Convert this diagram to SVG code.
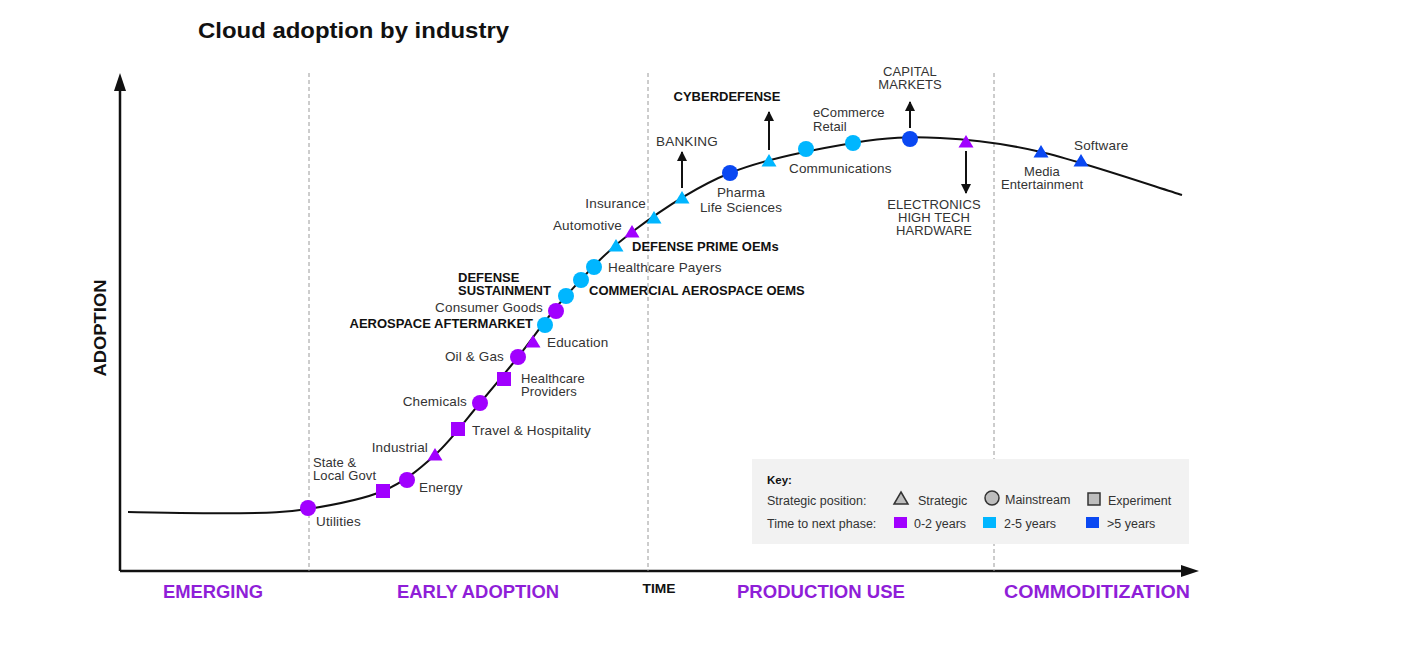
<svg xmlns="http://www.w3.org/2000/svg" xmlns:xlink="http://www.w3.org/1999/xlink" width="1410" height="655" viewBox="0 0 1410 655">
<style>
text{font-family:"Liberation Sans",Arial,sans-serif;fill:#333;font-size:13.5px;letter-spacing:0.15px}
.b{font-weight:bold;fill:#111;font-size:13px;letter-spacing:0}
.ph{font-weight:bold;fill:#8F1ED8;font-size:18.5px;letter-spacing:0}
.e{text-anchor:end}
.m{text-anchor:middle}
.p{fill:#A100FF}
.c{fill:#00B6FF}
.d{fill:#0A48F2}
.dash{stroke:#9a9a9a;stroke-width:1;stroke-dasharray:4 3;fill:none}
.arr{stroke:#111;stroke-width:2;fill:none;marker-end:url(#ah)}
.k{fill:#BDBDBD;stroke:#333;stroke-width:1.5}
.ks{font-size:12.5px;letter-spacing:0}
.sm{font-size:13px;letter-spacing:0.1px}
</style>
<defs>
<marker id="ah" viewBox="0 0 10 10" refX="9" refY="5" markerWidth="5" markerHeight="5" orient="auto" markerUnits="strokeWidth">
<path d="M0,0 L10,5 L0,10 Z" fill="#111"/>
</marker>
<circle id="dot" r="8"/>
<rect id="sq" x="-7" y="-7" width="14" height="14"/>
<path id="tri" d="M0,-7 L7.5,5.5 L-7.5,5.5 Z"/>
</defs>
<rect width="1410" height="655" fill="#fff"/>
<text x="198" y="38" class="b" style="font-size:22.5px" textLength="311" lengthAdjust="spacingAndGlyphs">Cloud adoption by industry</text>

<g id="axes">
<line x1="120" y1="571" x2="120" y2="88" stroke="#111" stroke-width="2.5"/>
<path d="M120,73 L126,91 L114,91 Z" fill="#111"/>
<line x1="120" y1="571" x2="1184" y2="571" stroke="#111" stroke-width="2.5"/>
<path d="M1199,571 L1181,565 L1181,577 Z" fill="#111"/>
<line class="dash" x1="309" y1="73" x2="309" y2="571"/>
<line class="dash" x1="648" y1="73" x2="648" y2="571"/>
<line class="dash" x1="994" y1="73" x2="994" y2="571"/>
<text transform="translate(106,328) rotate(-90)" class="b m" style="font-size:17px" textLength="97" lengthAdjust="spacingAndGlyphs">ADOPTION</text>
<text x="659" y="593" class="b m" style="font-size:12.5px" textLength="33" lengthAdjust="spacingAndGlyphs">TIME</text>
<text x="213" y="598" class="ph m" textLength="100" lengthAdjust="spacingAndGlyphs">EMERGING</text>
<text x="478" y="598" class="ph m" textLength="162" lengthAdjust="spacingAndGlyphs">EARLY ADOPTION</text>
<text x="821" y="598" class="ph m" textLength="168" lengthAdjust="spacingAndGlyphs">PRODUCTION USE</text>
<text x="1097" y="598" class="ph m" textLength="186" lengthAdjust="spacingAndGlyphs">COMMODITIZATION</text>
</g>

<g id="connectors">
<path d="M128,512 C146.7,512.3 210,513.5 240,513.2 C270,513 284.2,512.5 308,509 C331.8,505.2 361.8,500 383,491 C404.2,482 418.8,469.7 435,455 C451.2,440.3 466.2,419.3 480,403 C493.8,386.7 503.7,374.8 518,357 C532.3,339.2 547,316.8 566,296 C585,275.2 604.7,252.5 632,232 C659.3,211.5 693.2,187.8 730,173 C766.8,158.2 818,148.8 853,143 C888,137.2 908.7,136.5 940,138 C971.3,139.5 1000.7,142.5 1041,152 C1081.3,161.5 1158.5,187.8 1182,195" fill="none" stroke="#111" stroke-width="2"/>
<line class="arr" x1="682" y1="188" x2="682" y2="152"/>
<line class="arr" x1="769" y1="150" x2="769" y2="112"/>
<line class="arr" x1="910" y1="128" x2="910" y2="102"/>
<line class="arr" x1="966" y1="151" x2="966" y2="193"/>
</g>

<g id="n-utilities"><use href="#dot" x="308" y="508" class="p"/><text x="316" y="526">Utilities</text></g>
<g id="n-state"><use href="#sq" x="383" y="491" class="p"/><text x="313" y="467" class="sm">State &amp;</text><text x="313" y="480" class="sm">Local Govt</text></g>
<g id="n-energy"><use href="#dot" x="407" y="480" class="p"/><text x="419" y="492">Energy</text></g>
<g id="n-industrial"><use href="#tri" x="435" y="455" class="p"/><text x="428" y="452" class="e">Industrial</text></g>
<g id="n-travel"><use href="#sq" x="458" y="429" class="p"/><text x="472" y="435">Travel &amp; Hospitality</text></g>
<g id="n-chemicals"><use href="#dot" x="480" y="403" class="p"/><text x="467" y="406" class="e">Chemicals</text></g>
<g id="n-hcprov"><use href="#sq" x="504" y="379" class="p"/><text x="521" y="383" class="sm">Healthcare</text><text x="521" y="396" class="sm">Providers</text></g>
<g id="n-oilgas"><use href="#dot" x="518" y="357" class="p"/><text x="504" y="361" class="e">Oil &amp; Gas</text></g>
<g id="n-education"><use href="#tri" x="533" y="342" class="p"/><text x="547" y="347">Education</text></g>
<g id="n-aeroaft"><use href="#dot" x="545" y="325" class="c"/><text x="533" y="328" class="e b">AEROSPACE AFTERMARKET</text></g>
<g id="n-consumer"><use href="#dot" x="556" y="311" class="p"/><text x="543" y="312" class="e">Consumer Goods</text></g>
<g id="n-defsus"><use href="#dot" x="566" y="296" class="c"/><text x="458" y="282" class="b">DEFENSE</text><text x="458" y="295" class="b">SUSTAINMENT</text></g>
<g id="n-comaero"><use href="#dot" x="581" y="280" class="c"/><text x="589" y="295" class="b">COMMERCIAL AEROSPACE OEMS</text></g>
<g id="n-hcpay"><use href="#dot" x="594" y="267" class="c"/><text x="608" y="272">Healthcare Payers</text></g>
<g id="n-defprime"><use href="#tri" x="616" y="246" class="c"/><text x="632" y="251" class="b">DEFENSE PRIME OEMs</text></g>
<g id="n-auto"><use href="#tri" x="632" y="232" class="p"/><text x="622" y="230" class="e">Automotive</text></g>
<g id="n-insurance"><use href="#tri" x="654" y="218" class="c"/><text x="646" y="208" class="e">Insurance</text></g>
<g id="n-banking"><use href="#tri" x="682" y="198" class="c"/><text x="687" y="146" class="m">BANKING</text></g>
<g id="n-pharma"><use href="#dot" x="730" y="173" class="d"/><text x="741" y="197" class="m">Pharma</text><text x="741" y="212" class="m">Life Sciences</text></g>
<g id="n-cyber"><use href="#tri" x="769" y="161" class="c"/><text x="727" y="101" class="m b">CYBERDEFENSE</text></g>
<g id="n-comms"><use href="#dot" x="806" y="149" class="c"/><text x="789" y="173">Communications</text></g>
<g id="n-ecom"><use href="#dot" x="853" y="143" class="c"/><text x="813" y="117" class="sm">eCommerce</text><text x="813" y="131" class="sm">Retail</text></g>
<g id="n-capital"><use href="#dot" x="910" y="139" class="d"/><text x="910" y="76" class="m sm">CAPITAL</text><text x="910" y="89" class="m sm">MARKETS</text></g>
<g id="n-electronics"><use href="#tri" x="966" y="142" class="p"/><text x="934" y="209" class="m sm">ELECTRONICS</text><text x="934" y="222" class="m sm">HIGH TECH</text><text x="934" y="235" class="m sm">HARDWARE</text></g>
<g id="n-media"><use href="#tri" x="1041" y="152" class="d"/><text x="1042" y="176" class="m sm">Media</text><text x="1042" y="189" class="m sm">Entertainment</text></g>
<g id="n-software"><use href="#tri" x="1081" y="161" class="d"/><text x="1074" y="150">Software</text></g>

<g id="key">
<rect x="752" y="459" width="437" height="85" fill="#F2F2F2"/>
<text x="767" y="484" class="b" style="font-size:11.5px">Key:</text>
<text x="767" y="505" class="ks">Strategic position:</text>
<text x="767" y="528" class="ks">Time to next phase:</text>
<path d="M901,492 L908,504 L894,504 Z" class="k"/>
<text x="918" y="505" class="ks">Strategic</text>
<circle cx="992" cy="498" r="7" class="k"/>
<text x="1005" y="504" class="ks">Mainstream</text>
<rect x="1088" y="493" width="12" height="12" class="k"/>
<text x="1108" y="505" class="ks">Experiment</text>
<rect x="894" y="517" width="13" height="11" class="p"/>
<text x="914" y="528" class="ks">0-2 years</text>
<rect x="983" y="517" width="13" height="11" class="c"/>
<text x="1004" y="528" class="ks">2-5 years</text>
<rect x="1086" y="517" width="13" height="11" class="d"/>
<text x="1107" y="528" class="ks">&gt;5 years</text>
</g>
</svg>
